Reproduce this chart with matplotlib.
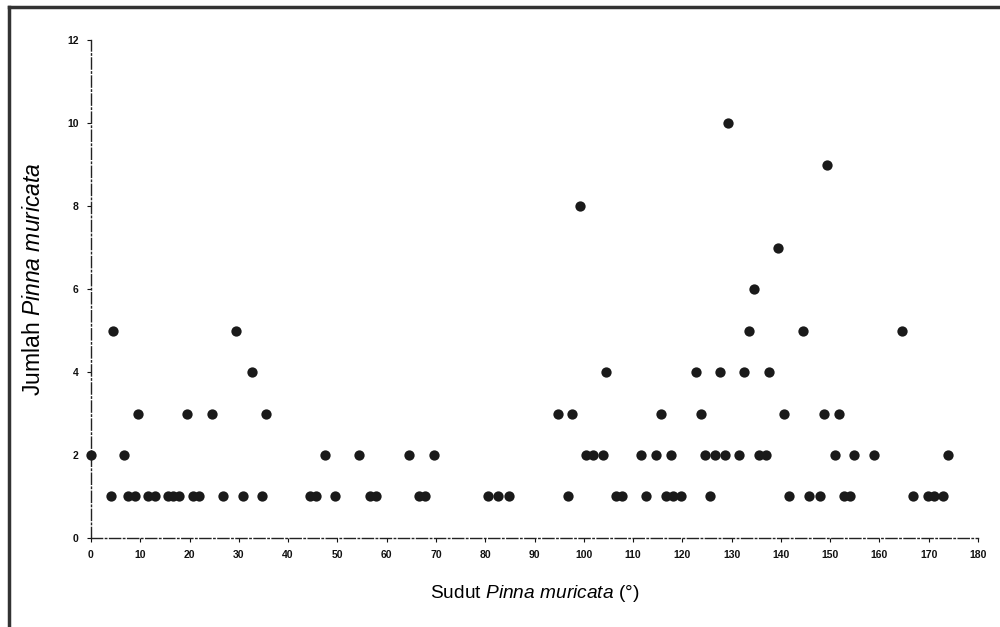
import matplotlib
matplotlib.use("Agg")
import matplotlib.pyplot as plt
from matplotlib.lines import Line2D

# angle (degrees) of each observation, grouped by count
angles_1 = [4, 7.6, 8.9, 11.6, 13, 15.7, 16.7, 17.8, 20.8, 22, 26.7, 30.8, 34.6,
            44.4, 45.6, 49.5, 56.6, 57.8, 66.6, 67.7, 80.6, 82.6, 84.8, 96.8,
            106.6, 107.8, 112.7, 116.6, 118.1, 119.8, 125.7, 141.6, 145.8, 147.9,
            152.9, 154.1, 166.8, 169.8, 171, 172.9]
angles_2 = [0, 6.6, 47.5, 54.4, 64.6, 69.6, 100.5, 101.9, 103.8, 111.7, 114.7,
            117.8, 124.5, 126.6, 128.6, 131.6, 135.6, 136.9, 150.9, 154.8, 158.8,
            173.9]
angles_3 = [9.6, 19.5, 24.6, 35.6, 94.8, 97.6, 115.6, 123.7, 140.7, 148.7, 151.7]
angles_4 = [32.6, 104.6, 122.7, 127.6, 132.6, 137.6]
angles_5 = [4.5, 29.5, 133.5, 144.5, 164.6]
angles_6 = [134.5]
angles_7 = [139.4]
angles_8 = [99.2]
angles_9 = [149.4]
angles_10 = [129.3]

groups = [angles_1, angles_2, angles_3, angles_4, angles_5,
          angles_6, angles_7, angles_8, angles_9, angles_10]
x = [a for g in groups for a in g]
y = [i + 1 for i, g in enumerate(groups) for _ in g]

x_ticks = list(range(0, 181, 10))
y_ticks = list(range(0, 13, 2))

plt.rcParams["font.family"] = ["Liberation Sans", "DejaVu Sans"]
plt.rcParams["mathtext.fontset"] = "custom"
plt.rcParams["mathtext.rm"] = "Liberation Sans"
plt.rcParams["mathtext.it"] = "Liberation Sans:italic"

fig = plt.figure(figsize=(10, 6.27), dpi=100)
ax = fig.add_axes([0.091, 0.142, 0.887, 0.794])

ax.scatter(x, y, s=55, color="#1a1a1a", zorder=3, clip_on=False, linewidths=0)

ax.set_xlim(0, 180)
ax.set_ylim(0, 12)
ax.set_xticks(x_ticks)
ax.set_yticks(y_ticks)
ax.tick_params(labelsize=7.5, length=3, width=0.8, pad=6, colors="#111111")
for lbl in ax.get_xticklabels() + ax.get_yticklabels():
    lbl.set_fontweight("bold")
for side in ("top", "right"):
    ax.spines[side].set_visible(False)
for side in ("left", "bottom"):
    ax.spines[side].set_linestyle((0, (8, 2, 1, 2)))
    ax.spines[side].set_linewidth(1.0)
    ax.spines[side].set_color("#222222")

ax.set_xlabel("Sudut $\\it{Pinna\\ muricata}$ (°)", fontsize=13.8, labelpad=16)
ax.set_ylabel("Jumlah $\\it{Pinna\\ muricata}$", fontsize=16.5, labelpad=18)
ax.yaxis.set_label_coords(-0.052, 0.52)

# page frame lines at the top and left
fig.add_artist(Line2D([0.009, 1.0], [0.989, 0.989], color="#333333", lw=2.5,
                      transform=fig.transFigure))
fig.add_artist(Line2D([0.009, 0.009], [0.0, 0.989], color="#333333", lw=2.5,
                      transform=fig.transFigure))

fig.savefig("out.png", dpi=100)
plt.close(fig)
